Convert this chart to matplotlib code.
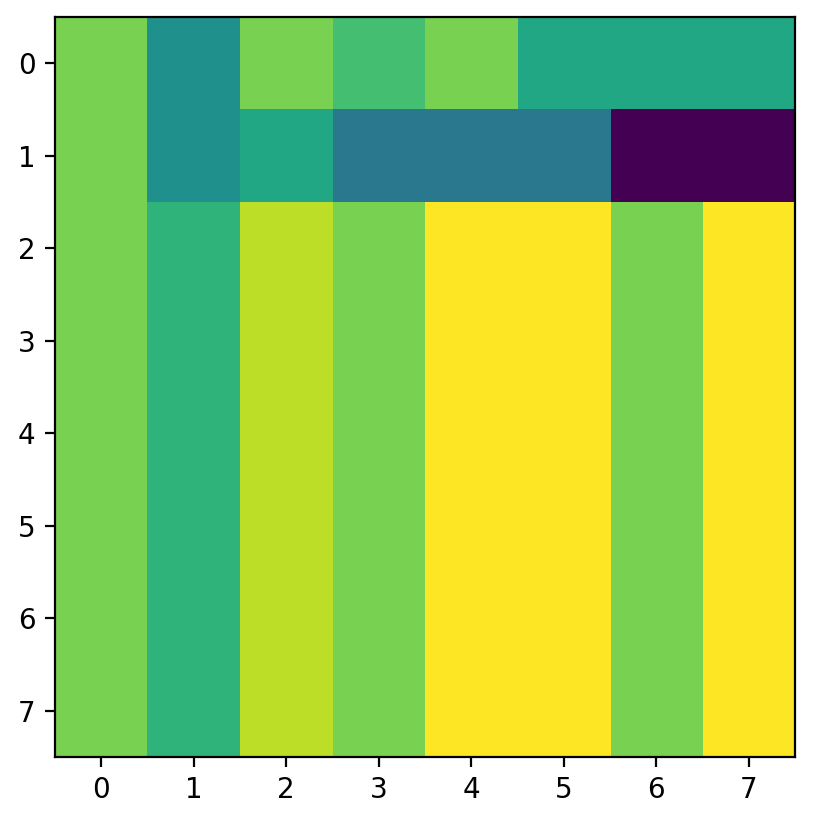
import numpy as np
import matplotlib
matplotlib.use("Agg")
import matplotlib.pyplot as plt

row0 = [0.8, 0.5, 0.8, 0.7, 0.8, 0.6, 0.6, 0.6]
row1 = [0.8, 0.5, 0.6, 0.4, 0.4, 0.4, 0.0, 0.0]
row_rest = [0.8, 0.65, 0.9, 0.8, 1.0, 1.0, 0.8, 1.0]
n_rest = 6

data = np.array([row0, row1] + [row_rest] * n_rest)

fig = plt.figure(figsize=(813 / 200, 822 / 200), dpi=200)
ax = fig.add_axes([55 / 813, 65 / 822, 740 / 813, 740 / 822])
ax.imshow(data, cmap="viridis", vmin=0, vmax=1)
ax.set_xticks(range(8))
ax.set_yticks(range(8))
fig.savefig("out.png", dpi=200)
